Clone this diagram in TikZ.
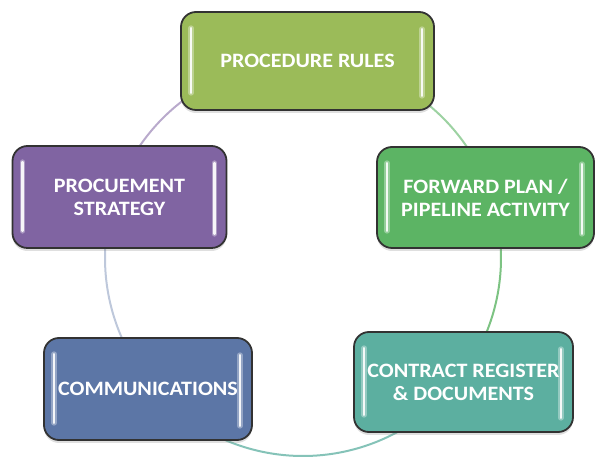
\documentclass[tikz,border=0pt]{standalone}
\usepackage{fontspec}
\setmainfont{Carlito}
\newfontfamily\boxfont[FakeStretch=1.08]{Carlito}
\usetikzlibrary{shadows}
\definecolor{cGreenA}{RGB}{155,187,89}
\definecolor{cPurple}{RGB}{128,100,162}
\definecolor{cGreenB}{RGB}{92,180,100}
\definecolor{cBlue}{RGB}{92,118,166}
\definecolor{cTeal}{RGB}{92,175,160}
\definecolor{cBorder}{RGB}{50,50,50}
\tikzset{
  box/.style={draw=cBorder, line width=1.8bp, rounded corners=15bp, align=center,
    text=white, font=\boxfont\bfseries\fontsize{20.5}{23}\selectfont,
    drop shadow={opacity=0.25, shadow xshift=0bp, shadow yshift=-3bp}},
  hlglow/.style={line width=5.5bp, line cap=round, white, opacity=0.35},
  hl/.style={line width=2.4bp, line cap=round, white, opacity=0.9},
  ring/.style={line width=2bp}
}
\newcommand{\highlights}[1]{%
  \draw[hlglow] ([xshift=11bp,yshift=-17bp]#1.north west) -- ([xshift=11bp,yshift=18bp]#1.south west);
  \draw[hl] ([xshift=11bp,yshift=-17bp]#1.north west) -- ([xshift=11bp,yshift=18bp]#1.south west);
  \draw[hlglow] ([xshift=-13bp,yshift=-18bp]#1.north east) -- ([xshift=-13bp,yshift=15bp]#1.south east);
  \draw[hl] ([xshift=-13bp,yshift=-18bp]#1.north east) -- ([xshift=-13bp,yshift=15bp]#1.south east);
}
\begin{document}
\begin{tikzpicture}[x=1bp,y=1bp]
\useasboundingbox (0,0) rectangle (595,459);
\coordinate (c) at (303,201);
% ring
\draw[ring, color=cGreenB!60] (c) ++(18.5:198) arc[start angle=18.5, end angle=89, radius=198];
\draw[ring, color=cPurple!55] (c) ++(89:198) arc[start angle=89, end angle=161.7, radius=198];
\draw[ring, color=cBlue!40] (c) ++(161.7:198) arc[start angle=161.7, end angle=220, radius=198];
\draw[ring, color=cTeal!75] (c) ++(220:198) arc[start angle=220, end angle=322.2, radius=198];
\draw[ring, color=cGreenB!80] (c) ++(-37.8:198) arc[start angle=-37.8, end angle=18.5, radius=198];
% boxes
\node[box, fill=cGreenA, minimum width=253bp, minimum height=98bp] (rules) at (307.5,398) {PROCEDURE RULES};
\node[box, fill=cPurple, minimum width=214bp, minimum height=102bp] (strategy) at (119.5,262) {PROCUEMENT\\STRATEGY};
\node[box, fill=cGreenB, minimum width=217bp, minimum height=101bp] (plan) at (485.5,261.5) {FORWARD PLAN /\\PIPELINE ACTIVITY};
\node[box, fill=cBlue, minimum width=208bp, minimum height=102bp] (comm) at (148,70) {COMMUNICATIONS};
\node[box, fill=cTeal, minimum width=219bp, minimum height=100bp] (contract) at (463.5,77) {CONTRACT REGISTER\\\& DOCUMENTS};
\highlights{rules}
\highlights{strategy}
\highlights{plan}
\highlights{comm}
\highlights{contract}
\end{tikzpicture}
\end{document}
